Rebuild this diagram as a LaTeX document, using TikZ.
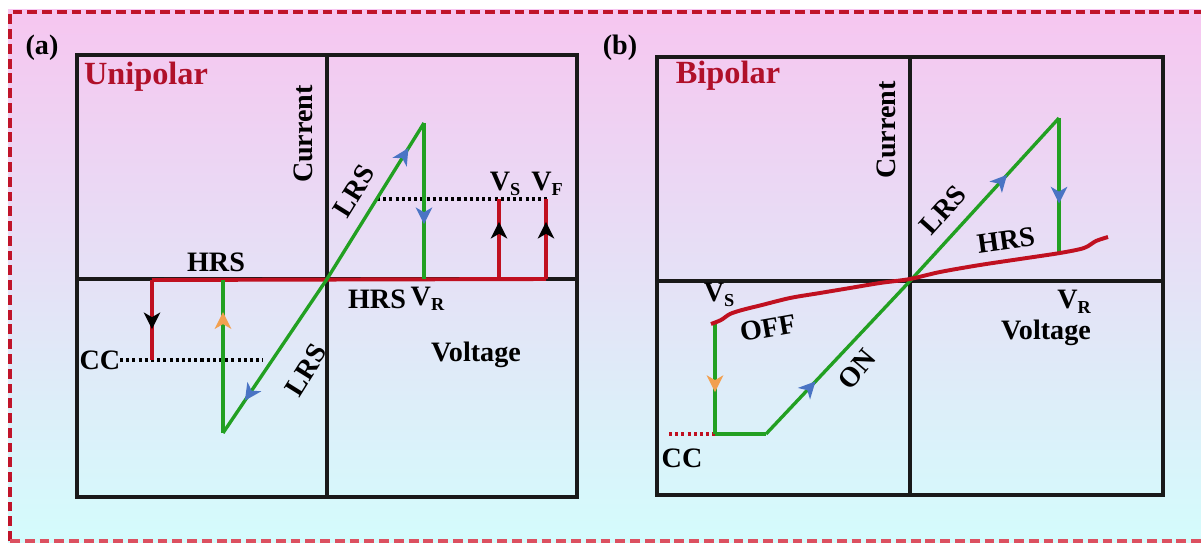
\documentclass[tikz,border=0pt]{standalone}
\usepackage{fontspec}
\setmainfont{Liberation Serif}
\usepackage{xcolor}
\usetikzlibrary{arrows.meta}
\usetikzlibrary{positioning}
\usetikzlibrary{decorations.markings}

\definecolor{bgtop}{HTML}{F6C6F0}
\definecolor{bgmid}{HTML}{E4E2F8}
\definecolor{bgbot}{HTML}{D4FCFC}
\definecolor{framered}{HTML}{C0142A}
\definecolor{framelight}{HTML}{DC5060}
\definecolor{curvered}{HTML}{C01020}
\definecolor{titlered}{HTML}{B0102A}
\definecolor{curvegreen}{HTML}{22A022}
\definecolor{tipblue}{HTML}{4A74C4}
\definecolor{tiporange}{HTML}{F2A050}

\newcommand{\lowidx}[1]{\raisebox{-0.4ex}{\fontsize{13}{13}\selectfont #1}}

\begin{document}
\begin{tikzpicture}[x=0.025cm,y=-0.025cm,
    every node/.style={font=\bfseries\fontsize{20}{24}\selectfont,inner sep=0pt},
    title/.style={text=titlered,font=\bfseries\fontsize{23}{26}\selectfont},
    frame/.style={draw=black!90,line width=2.4pt},
    axisline/.style={draw=black!90,line width=2.4pt},
    greenline/.style={draw=curvegreen,line width=2.4pt},
    redline/.style={draw=curvered,line width=2.8pt},
    dotline/.style={line width=2.4pt,dash pattern=on 2.2pt off 2.2pt},
    midtip/.style 2 args={postaction={decorate,decoration={markings,
        mark=at position #1 with {\fill[#2] (6.5pt,0) -- (-5.5pt,6pt) -- (-2pt,0) -- (-5.5pt,-6pt) -- cycle;}}}}]
  \useasboundingbox (0,0) rectangle (1201,543);

  % background and dashed border
  \fill[top color=bgtop,middle color=bgmid,bottom color=bgbot] (8,10) rectangle (1201,543);
  \draw[framered,line width=2.8pt,dash pattern=on 7pt off 3.5pt] (10,541) -- (10,12) -- (1201,12);
  \draw[framelight,line width=2.4pt,dash pattern=on 7pt off 3.5pt] (10,541) -- (1201,541);

  % ---------- (a) unipolar ----------
  \coordinate (oa) at (327,279);
  \coordinate (pa) at (424,123);
  \coordinate (qa) at (424,279);
  \coordinate (ra) at (152,280);
  \coordinate (sa) at (152,360);
  \coordinate (ta) at (223,280);
  \coordinate (ua) at (223,433);
  \coordinate (vsa) at (499,279);
  \coordinate (vsa') at (499,199);
  \coordinate (vfa) at (546,279);
  \coordinate (vfa') at (546,199);

  \draw[frame] (77,55) rectangle (577,497);
  \draw[axisline] (327,55) -- (327,497);
  \draw[axisline] (77,279) -- (577,279);

  \draw[dotline] (377,199) -- (549,199);
  \draw[dotline] (120,360) -- (263,360);

  \draw[redline] (ra) -- (vfa);
  \draw[redline,midtip={0.5}{black}] (ra) -- (sa);
  \draw[redline,midtip={0.6}{black}] (vsa) -- (vsa');
  \draw[redline,midtip={0.6}{black}] (vfa) -- (vfa');

  \draw[greenline,midtip={0.79}{tipblue}] (oa) -- (pa);
  \draw[greenline,midtip={0.59}{tipblue}] (pa) -- (qa);
  \draw[greenline,midtip={0.74}{tipblue}] (oa) -- (ua);
  \draw[greenline,midtip={0.73}{tiporange}] (ua) -- (ta);

  \node (lbla) at (42,48) {(a)};
  \node[title] (uni) at (146,77) {Unipolar};
  \node[rotate=90] (cura) at (303,134) {Current};
  \node[rotate=58] (lrsa) at (354,191) {LRS};
  \node (vsla) at (505,184) {V\lowidx{S}};
  \node (vfla) at (547,184) {V\lowidx{F}};
  \node (hrsa) at (216,262) {HRS};
  \node (hrsa') at (377,299) {HRS};
  \node (vrla) [right=3pt of hrsa'] {V\lowidx{R}};
  \node (cca) at (100,360) {CC};
  \node[rotate=58] (lrsa') at (306,370) {LRS};
  \node (volta) at (476,355) {Voltage};

  % ---------- (b) bipolar ----------
  \coordinate (ob) at (910,281);
  \coordinate (pb) at (1059,118);
  \coordinate (qb) at (1059,252);
  \coordinate (sb) at (715,323);
  \coordinate (tb) at (715,434);
  \coordinate (ub) at (766,434);

  \draw[frame] (657,57) rectangle (1163,495);
  \draw[axisline] (910,57) -- (910,495);
  \draw[axisline] (657,281) -- (1163,281);

  \draw[curvered,dotline] (669,434) -- (tb);

  \draw[greenline,midtip={0.61}{tipblue}] (ob) -- (pb);
  \draw[greenline,midtip={0.57}{tipblue}] (pb) -- (qb);
  \draw[greenline,midtip={0.54}{tiporange}] (sb) -- (tb);
  \draw[greenline] (tb) -- (ub);
  \draw[greenline,midtip={0.30}{tipblue}] (ub) -- (ob);

  \draw[redline] plot[smooth] coordinates {(711,324) (721,320) (730,314) (742,310)
      (762,305) (790,298) (820,293) (850,288) (880,283) (910,279) (940,272) (980,265)
      (1020,259) (1060,253) (1084,248) (1096,241) (1108,237)};

  \node (lblb) at (620,48) {(b)};
  \node[title] (bip) at (728,76) {Bipolar};
  \node[rotate=90] (curb) at (886,130) {Current};
  \node[rotate=48] (lrsb) at (943,210) {LRS};
  \node[rotate=8] (hrsb) at (1006,240) {HRS};
  \node (vslb) at (719,295) {V\lowidx{S}};
  \node[rotate=10] (offb) at (768,328) {OFF};
  \node[rotate=50] (onb) at (857,369) {ON};
  \node (ccb) at (682,458) {CC};
  \node (vrlb) at (1074,302) {V\lowidx{R}};
  \node (voltb) at (1046,333) {Voltage};
\end{tikzpicture}
\end{document}
